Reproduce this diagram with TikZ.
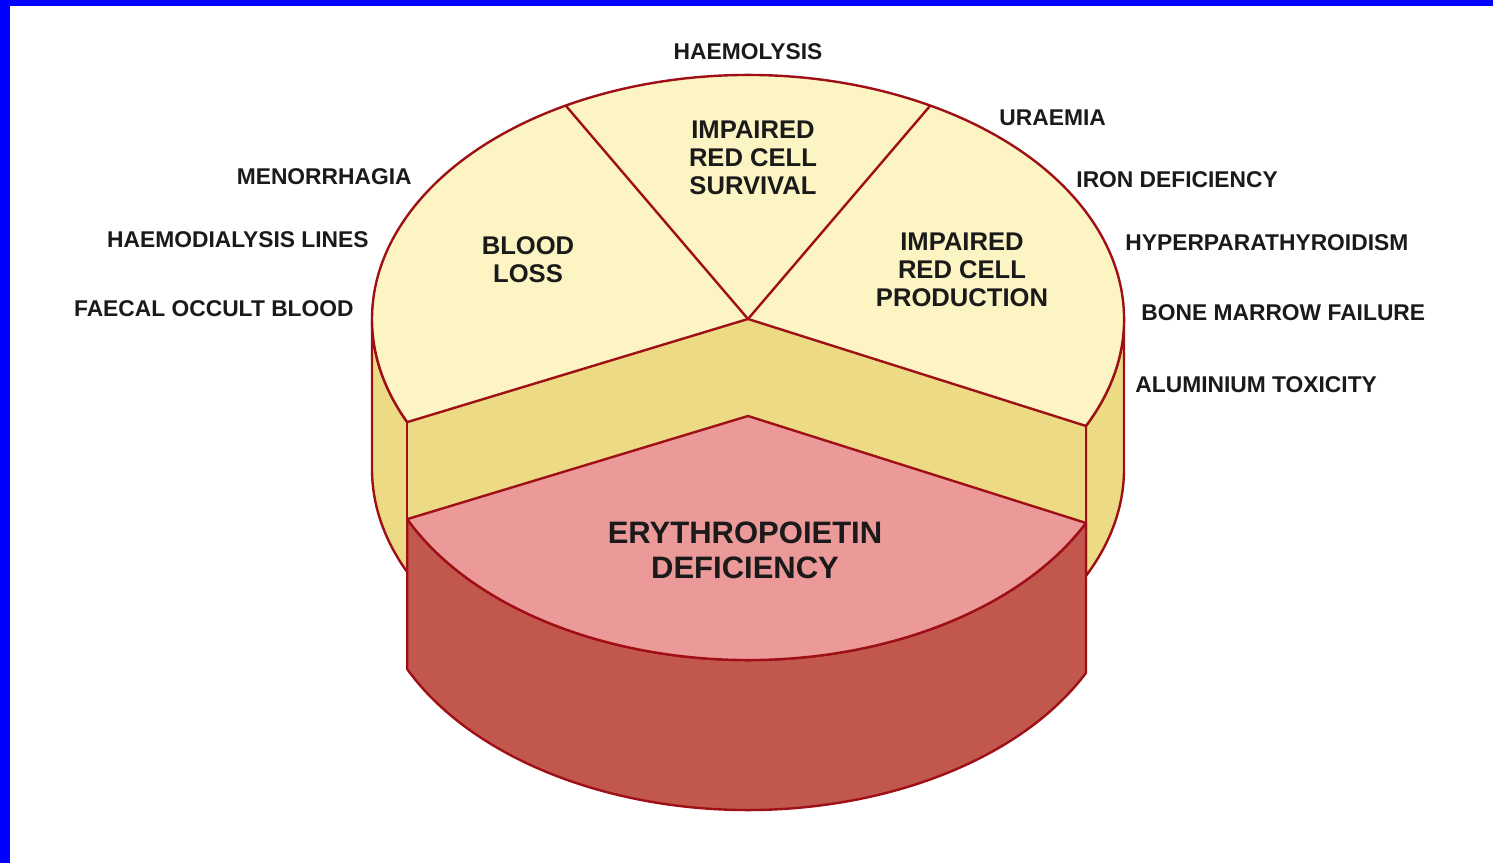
\documentclass[tikz,border=0pt]{standalone}
\usepackage{fontspec}
\setmainfont{Liberation Sans}
\definecolor{frame}{HTML}{0000FF}
\definecolor{rim}{HTML}{9E1016}
\definecolor{topfill}{HTML}{FCF4C2}
\definecolor{cutfill}{HTML}{ECDB84}
\definecolor{epotop}{HTML}{EB9999}
\definecolor{eposide}{HTML}{C2574D}
\definecolor{ink}{HTML}{1A1A1A}

\begin{document}
\begin{tikzpicture}[x=0.5pt, y=0.5pt, ink,
  pie/.style={x radius=188pt, y radius=122pt},
  edge/.style={draw=rim, line width=1.2pt, line join=round},
  outlab/.style={font=\bfseries\fontsize{11.4}{14}\selectfont, inner sep=0pt},
  inlab/.style={font=\bfseries\fontsize{12.8}{14}\selectfont, align=center, inner sep=0pt},
  epolab/.style={font=\bfseries\fontsize{15.5}{17.5}\selectfont, align=center, inner sep=0pt}]

\useasboundingbox (0,0) rectangle (1493,863);

% frame
\fill[frame] (0,0) rectangle (10,863);
\fill[frame] (0,857) rectangle (1493,863);

% centres
\coordinate (c) at (748,544);
\coordinate (cl) at (748,394);
\coordinate (e) at (748,447);

% outer sides
\filldraw[edge, fill=cutfill] (c) ++(180:188pt and 122pt) arc[pie, start angle=180, end angle=205]
  -- ++(0,-150) arc[pie, start angle=205, end angle=180] -- cycle;
\filldraw[edge, fill=cutfill] (c) ++(-26:188pt and 122pt) arc[pie, start angle=-26, end angle=0]
  -- ++(0,-150) arc[pie, start angle=0, end angle=-26] -- cycle;

% cut faces
\fill[cutfill] (c) -- ++(205:188pt and 122pt) -- ++(0,-150) -- (cl) -- cycle;
\fill[cutfill] (c) -- ++(-26:188pt and 122pt) -- ++(0,-150) -- (cl) -- cycle;
\draw[edge] (c) ++(205:188pt and 122pt) -- ++(0,-150);
\draw[edge] (c) ++(-26:188pt and 122pt) -- ++(0,-150);

% top face
\filldraw[edge, fill=topfill] (c) -- ++(-26:188pt and 122pt) arc[pie, start angle=-26, end angle=205] -- cycle;
\draw[edge] (c) -- ++(61:188pt and 122pt);
\draw[edge] (c) -- ++(119:188pt and 122pt);

% erythropoietin slice
\filldraw[edge, fill=eposide] (e) ++(205:188pt and 122pt) arc[pie, start angle=205, end angle=334]
  -- ++(0,-150) arc[pie, start angle=334, end angle=205] -- cycle;
\filldraw[edge, fill=epotop] (e) -- ++(205:188pt and 122pt) arc[pie, start angle=205, end angle=334] -- cycle;

% slice labels
\node[inlab] (survival) at (753,705) {IMPAIRED\\RED CELL\\SURVIVAL};
\node[inlab] (bloodloss) at (528,603) {BLOOD\\LOSS};
\node[inlab] (production) at (962,593) {IMPAIRED\\RED CELL\\PRODUCTION};
\node[epolab] (epo) at (745,313) {ERYTHROPOIETIN\\DEFICIENCY};

% causes
\node[outlab] (haemolysis) at (748,811) {HAEMOLYSIS};
\node[outlab, anchor=east] (menorrhagia) at (412,686) {MENORRHAGIA};
\node[outlab, anchor=east] (dialysis) at (369,623) {HAEMODIALYSIS LINES};
\node[outlab, anchor=east] (faecal) at (354,554) {FAECAL OCCULT BLOOD};
\node[outlab, anchor=west] (uraemia) at (999,745) {URAEMIA};
\node[outlab, anchor=west] (iron) at (1076,683) {IRON DEFICIENCY};
\node[outlab, anchor=west] (hyperpara) at (1125,620) {HYPERPARATHYROIDISM};
\node[outlab, anchor=west] (marrow) at (1141,550) {BONE MARROW FAILURE};
\node[outlab, anchor=west] (aluminium) at (1135,478) {ALUMINIUM TOXICITY};

\end{tikzpicture}
\end{document}
